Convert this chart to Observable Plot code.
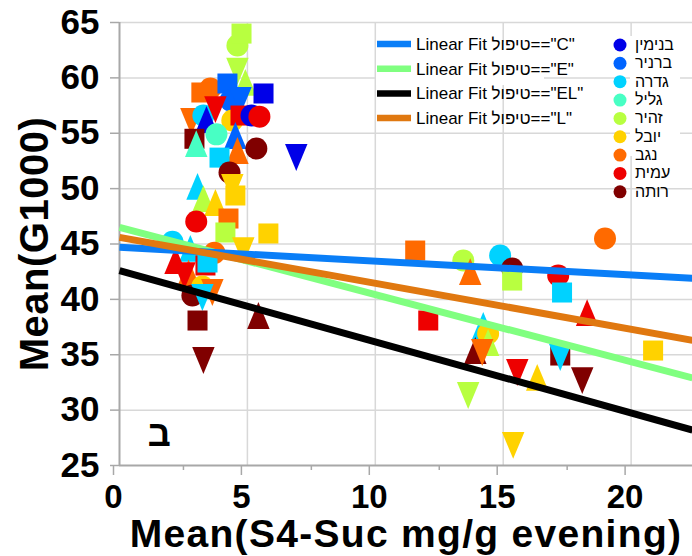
<!DOCTYPE html>
<html><head><meta charset="utf-8">
<script src="https://cdn.jsdelivr.net/npm/d3@7"></script>
<script src="https://cdn.jsdelivr.net/npm/@observablehq/plot@0.6"></script>
<style>html,body{margin:0;padding:0;background:#fff} svg{display:block}</style>
</head><body><div id="chart"></div>
<script>
// ---------- data ----------
const siteNames = ["בנימין","ברניר","גדרה","גליל","זהיר","יובל","נגב","עמית","רותה"];
const siteColors = ["#0000e8","#0064ff","#00d2ff","#48ffc4","#b8ff40","#ffd200","#ff6a00","#ee0000","#800000"];

const fitLabels = ['Linear Fit טיפול=="C"','Linear Fit טיפול=="E"','Linear Fit טיפול=="EL"','Linear Fit טיפול=="L"'];
const fitColors = ["#0a7ef7","#80ff80","#000000","#e07810"];
const fitIntercepts = [44.7, 46.5, 42.6, 45.6];
const fitSlopes = [-0.125, -0.607, -0.643, -0.415];

const xTicks = [0, 5, 10, 15, 20];
const xMinorTicks = [2.5, 7.5, 12.5, 17.5];
const yTicks = [25, 30, 35, 40, 45, 50, 55, 60, 65];

const xTitle = "Mean(S4-Suc mg/g evening)";
const yTitle = "Mean(G1000)";
const panelLabel = ["ב"];
const panelX = [1.1];
const panelY = [27.8];

const pointX = [11.56,13.44,13.71,14.88,15.35,15.35,17.15,17.30,18.98,18.28,12.07,14.22,14.41,14.41,13.91,14.18,17.23,17.23,20.86,15.55,16.33,18.09,13.63,15.39,
  6.91,5.82,5.43,
  4.61,4.77,4.61,4.92,3.55,3.20,4.22,4.34,4.73,5.63,2.81,3.28,3.40,3.75,4.41,4.73,5.16,5.47,2.93,3.00,3.79,4.53,4.61,5.35,3.91,4.30,3.05,4.41,4.53,3.28,3.75,3.00,4.26,4.14,2.07,2.77,3.71,4.84,2.19,3.36,3.44,2.70,2.54,3.24,3.63,2.85,3.24,3.05,3.28];
const pointY = [44.41,43.51,42.5,43.96,42.79,41.70,42.16,40.62,45.50,38.81,38.09,37.64,36.92,36.11,35.38,35.2,34.93,34.75,35.38,33.40,32.95,32.67,31.32,26.81,
  52.81,45.95,38.54,
  62.92,64.0,60.6,59.6,59.04,58.68,59.49,57.96,57.96,58.59,56.06,56.6,56.24,57.14,56.15,56.6,56.6,56.5,54.5,54.07,54.9,54.8,53.44,53.62,52.8,51.46,50.2,50.1,49.38,49.1,48.75,47.03,47.3,46.04,45.2,44.6,44.2,44.4,43.5,43.06,43.33,42.4,42.15,41.16,40.62,40.35,40.17,38.09,34.48];
const pointSite = [6,4,6,2,8,4,7,2,6,7,7,2,5,4,8,6,8,2,5,7,5,8,4,5,
  0,5,8,
  4,4,4,4,6,6,1,1,1,0,6,2,0,7,5,7,0,7,8,3,3,1,6,8,2,8,2,5,5,4,5,7,6,4,2,2,6,5,7,7,2,6,7,5,6,8,2,8,8];
const pointShape = ["s","c","u","c","c","s","c","s","c","u","s","u","c","u","u","d","s","d","s","d","u","d","d","d",
  "d","s","u",
  "c","s","d","u","c","s","s","c","d","s","d","c","u","d","c","s","c","c","s","u","c","u","u","c","s","c","u","d","s","u","u","c","s","s","c","u","c","d","u","s","s","u","d","c","d","c","d","s","d"];

// ---------- symbols ----------
function makeSym(kind) {
  return {draw(ctx, size) {
    const r = Math.sqrt(size / Math.PI);
    if (kind === "c") { ctx.moveTo(r, 0); ctx.arc(0, 0, r, 0, 2 * Math.PI); }
    else if (kind === "s") { const h = r * 0.91; ctx.moveTo(-h, -h); ctx.lineTo(h, -h); ctx.lineTo(h, h); ctx.lineTo(-h, h); ctx.closePath(); }
    else if (kind === "u") { const w = r * 1.02, h = r * 1.22; ctx.moveTo(0, -h); ctx.lineTo(w, h); ctx.lineTo(-w, h); ctx.closePath(); }
    else { const w = r * 1.02, h = r * 1.22; ctx.moveTo(0, h); ctx.lineTo(w, -h); ctx.lineTo(-w, -h); ctx.closePath(); }
  }};
}
const syms = {c: makeSym("c"), s: makeSym("s"), u: makeSym("u"), d: makeSym("d")};

const points = pointX.map((x, i) => ({x, y: pointY[i], color: siteColors[pointSite[i]], shape: pointShape[i]}));
const xMax = 22.4;
const fitData = fitLabels.map((label, i) => [0, xMax].map(x => ({fit: label, color: fitColors[i], x, y: fitIntercepts[i] + fitSlopes[i] * x})));
const lineOrder = [1, 0, 2, 3];

const font = "'Liberation Sans', Arial, sans-serif";
const axisColor = "#a8a8a8";

const chart = Plot.plot({
  width: 692, height: 556,
  marginLeft: 119, marginRight: 0, marginTop: 22, marginBottom: 91,
  x: {domain: [0, xMax]},
  y: {domain: [25, 65]},
  color: {type: "identity"},
  style: {fontFamily: font, background: "#fff", overflow: "visible"},
  marks: [
    Plot.gridX(xTicks.filter(d => d > 0), {stroke: "#d8d8d8", strokeOpacity: 1, strokeWidth: 1.5}),
    Plot.gridY(yTicks.filter(d => d > 25), {stroke: "#d8d8d8", strokeOpacity: 1, strokeWidth: 1.5}),
    Plot.axisX(xTicks, {tickSize: 10, tickPadding: 9, stroke: axisColor, strokeWidth: 1.5, fontSize: 33, fontWeight: "bold", dx: -6, label: null}),
    Plot.axisX(xMinorTicks, {tickSize: 5, text: null, stroke: axisColor, strokeWidth: 1.5, label: null}),
    Plot.axisY(yTicks, {tickSize: 9, tickPadding: 11, stroke: axisColor, strokeWidth: 1.5, fontSize: 35, fontWeight: "bold", label: null}),
    Plot.ruleX([0], {stroke: axisColor, strokeWidth: 2}),
    Plot.ruleY([25], {stroke: axisColor, strokeWidth: 2}),
    Plot.dot(points, {x: "x", y: "y", fill: "color", r: 11, symbol: d => syms[d.shape]}),
    ...lineOrder.map(i => Plot.line(fitData[i], {x: "x", y: "y", stroke: "color", strokeWidth: 7, strokeLinecap: "butt"})),
    Plot.text(panelLabel, {x: panelX, y: panelY, text: d => d, textAnchor: "start", fontSize: 36, fontWeight: "bold", fill: "#000"})
  ]
});

document.getElementById("chart").appendChild(chart);

// ---------- titles & legends ----------
const svg = d3.select(chart);
svg.append("text").attr("x", 406).attr("y", 547).attr("text-anchor", "middle").attr("letter-spacing", 1.3)
  .attr("font-family", font).attr("font-weight", "bold").attr("font-size", 39).attr("fill", "#000").text(xTitle);
svg.append("text").attr("transform", "translate(48,244) rotate(-90)").attr("text-anchor", "middle").attr("letter-spacing", 0.5)
  .attr("font-family", font).attr("font-weight", "bold").attr("font-size", 40).attr("fill", "#000").text(yTitle);

const lg = svg.append("g");
lg.append("rect").attr("x", 376).attr("y", 42).attr("width", 168).attr("height", 43).attr("fill", "#fff");
fitLabels.forEach((t, i) => {
  const y = 44 + i * 24.7;
  lg.append("line").attr("x1", 377).attr("x2", 411).attr("y1", y).attr("y2", y)
    .attr("stroke", fitColors[i]).attr("stroke-width", 6.5);
  lg.append("text").attr("x", 416).attr("y", y + 6).attr("text-anchor", "start").attr("font-family", font).attr("font-size", 17)
    .attr("fill", "#000").text(t);
});
const sl = svg.append("g");
sl.append("rect").attr("x", 630).attr("y", 36).attr("width", 50).attr("height", 120).attr("fill", "#fff");
siteNames.forEach((n, i) => {
  const y = 45 + i * 18.35;
  sl.append("circle").attr("cx", 620).attr("cy", y).attr("r", 6.5).attr("fill", siteColors[i]);
  sl.append("text").attr("x", 635).attr("y", y + 5).attr("text-anchor", "start").attr("font-family", font).attr("font-size", 16)
    .attr("fill", "#000").text(n);
});
</script>
</body></html>
